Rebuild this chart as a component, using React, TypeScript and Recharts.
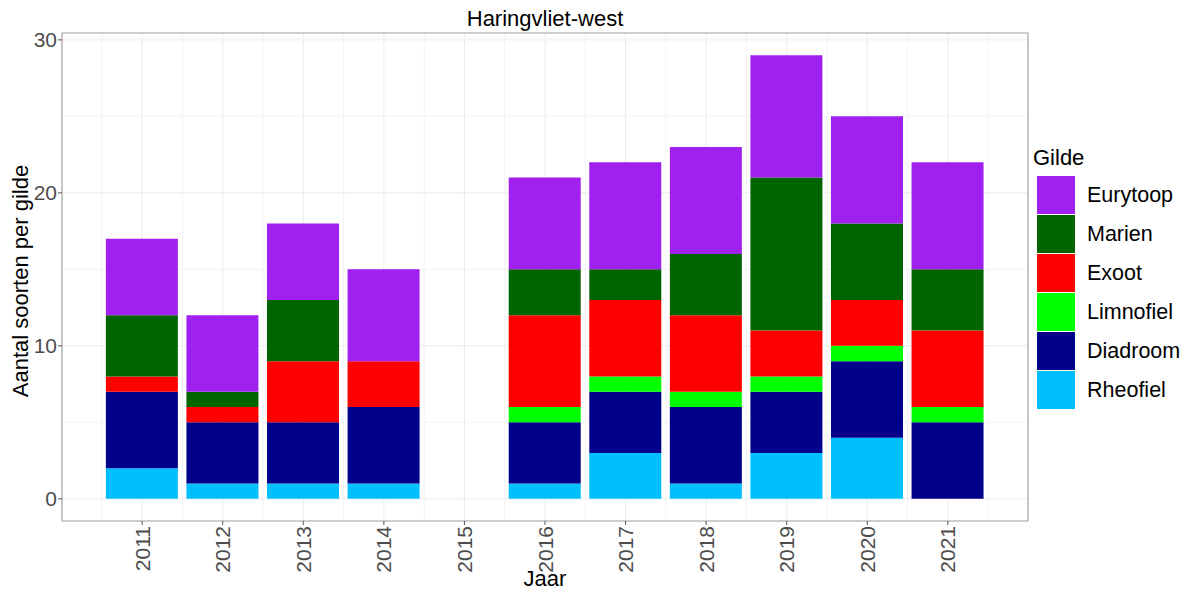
import React from "react";
import {
  Bar,
  BarChart,
  CartesianGrid,
  Legend,
  ReferenceArea,
  XAxis,
  YAxis,
} from "recharts";

const YEARS = [2011, 2012, 2013, 2014, 2015, 2016, 2017, 2018, 2019, 2020, 2021];
const RHEOFIEL = [2, 1, 1, 1, 0, 1, 3, 1, 3, 4, 0];
const DIADROOM = [5, 4, 4, 5, 0, 4, 4, 5, 4, 5, 5];
const LIMNOFIEL = [0, 0, 0, 0, 0, 1, 1, 1, 1, 1, 1];
const EXOOT = [1, 1, 4, 3, 0, 6, 5, 5, 3, 3, 5];
const MARIEN = [4, 1, 4, 0, 0, 3, 2, 4, 10, 5, 4];
const EURYTOOP = [5, 5, 5, 6, 0, 6, 7, 7, 8, 7, 7];

// legend order top to bottom; stacks are drawn in reverse
const GILDEN = ["Eurytoop", "Marien", "Exoot", "Limnofiel", "Diadroom", "Rheofiel"];
const COLORS: Record<string, string> = {
  Eurytoop: "#A020F0",
  Marien: "#006400",
  Exoot: "#FF0000",
  Limnofiel: "#00FF00",
  Diadroom: "#00008B",
  Rheofiel: "#00BFFF",
};

const Y_TICKS = [0, 10, 20, 30];
const Y_MINOR = [5, 15, 25];
const X_MINOR = [2010.5, 2011.5, 2012.5, 2013.5, 2014.5, 2015.5, 2016.5, 2017.5, 2018.5, 2019.5, 2020.5, 2021.5];
const X_DOMAIN = [2010.005, 2021.995];
const Y_DOMAIN = [-1.45, 30.45];

const data = YEARS.map((year, i) => ({
  year,
  Rheofiel: RHEOFIEL[i],
  Diadroom: DIADROOM[i],
  Limnofiel: LIMNOFIEL[i],
  Exoot: EXOOT[i],
  Marien: MARIEN[i],
  Eurytoop: EURYTOOP[i],
}));

const FONT = "'Liberation Sans', Arial, sans-serif";

function YearTick({ x, y, payload }: any) {
  return (
    <g transform={`translate(${x},${y - 1})`}>
      <text
        transform="rotate(-90)"
        textAnchor="end"
        dy="0.36em"
        fontSize={21}
        fill="#4D4D4D"
        fontFamily={FONT}
      >
        {payload.value}
      </text>
    </g>
  );
}

function GildeLegend() {
  return (
    <div style={{ fontFamily: FONT, color: "#000" }}>
      <div style={{ fontSize: 22, marginBottom: 5, marginLeft: -4 }}>Gilde</div>
      {GILDEN.map((g) => (
        <div key={g} style={{ display: "flex", alignItems: "center", height: 39 }}>
          <div
            style={{
              width: 38,
              height: 38,
              background: COLORS[g],
              borderBottom: "1px solid #fff",
            }}
          />
          <span style={{ fontSize: 21.5, marginLeft: 12 }}>{g}</span>
        </div>
      ))}
    </div>
  );
}

export default function App() {
  return (
    <div
      style={{
        position: "absolute",
        left: 0,
        top: 0,
        width: 1191,
        height: 594,
        background: "#fff",
        fontFamily: FONT,
      }}
    >
      <div
        style={{
          position: "absolute",
          left: 62,
          width: 966,
          top: 6,
          textAlign: "center",
          fontSize: 22,
          color: "#000",
        }}
      >
        Haringvliet-west
      </div>
      <div
        style={{
          position: "absolute",
          left: 62,
          width: 966,
          top: 566,
          textAlign: "center",
          fontSize: 22,
          color: "#000",
        }}
      >
        Jaar
      </div>
      <div
        style={{
          position: "absolute",
          left: 21,
          top: 281,
          transform: "translate(-50%, -50%) rotate(-90deg)",
          whiteSpace: "nowrap",
          fontSize: 22,
          color: "#000",
        }}
      >
        Aantal soorten per gilde
      </div>
      <BarChart
        width={1191}
        height={594}
        data={data}
        margin={{ top: 33, right: 13, bottom: 0, left: 0 }}
      >
        <XAxis xAxisId="minor" type="number" dataKey="year" domain={X_DOMAIN} ticks={X_MINOR} hide allowDataOverflow />
        <YAxis yAxisId="minor" type="number" domain={Y_DOMAIN} ticks={Y_MINOR} hide allowDataOverflow />
        <CartesianGrid xAxisId="minor" yAxisId="minor" stroke="#F3F3F3" strokeWidth={1} />
        <CartesianGrid stroke="#EBEBEB" strokeWidth={1} />
        <XAxis
          type="number"
          dataKey="year"
          domain={X_DOMAIN}
          ticks={YEARS}
          interval={0}
          allowDataOverflow
          height={73}
          tickSize={4}
          tickLine={{ stroke: "#555" }}
          axisLine={false}
          tick={<YearTick />}
        />
        <YAxis
          type="number"
          domain={Y_DOMAIN}
          ticks={Y_TICKS}
          allowDataOverflow
          width={62}
          tickSize={4}
          tickMargin={1}
          tickLine={{ stroke: "#555" }}
          axisLine={false}
          tick={{ fontSize: 21, fill: "#4D4D4D", fontFamily: FONT }}
        />
        {[...GILDEN].reverse().map((g) => (
          <Bar
            key={g}
            dataKey={g}
            stackId="gilde"
            fill={COLORS[g]}
            barSize={72}
            isAnimationActive={false}
          />
        ))}
        <ReferenceArea
          x1={X_DOMAIN[0]}
          x2={X_DOMAIN[1]}
          y1={Y_DOMAIN[0]}
          y2={Y_DOMAIN[1]}
          fill="none"
          stroke="#AAAAAA"
          strokeWidth={1.2}
          ifOverflow="visible"
        />
        <Legend
          content={<GildeLegend />}
          layout="vertical"
          verticalAlign="top"
          align="right"
          wrapperStyle={{ position: "absolute", left: 1037, top: 145, width: 150 }}
        />
      </BarChart>
    </div>
  );
}
